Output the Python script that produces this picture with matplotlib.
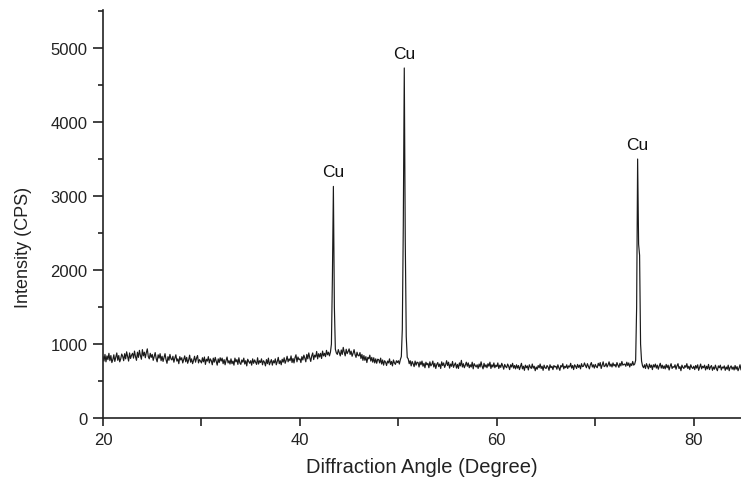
import numpy as np
import matplotlib
matplotlib.use('Agg')
import matplotlib.pyplot as plt
from matplotlib.ticker import MultipleLocator

# XRD scan: start angle, step and counts (one row per degree)
start_angle = 20.0
step = 0.1
counts = [
    830, 770, 860, 760, 840, 790, 875, 775, 845, 750,
    790, 855, 765, 820, 880, 780, 845, 760, 800, 865,
    835, 775, 870, 800, 895, 830, 770, 880, 805, 850,
    875, 810, 905, 830, 780, 890, 820, 915, 845, 795,
    925, 840, 890, 815, 885, 935, 830, 800, 875, 820,
    860, 780, 835, 885, 805, 760, 855, 810, 870, 775,
    835, 765, 815, 870, 790, 740, 830, 780, 860, 800,
    785, 835, 755, 810, 855, 770, 800, 735, 830, 785,
    815, 745, 795, 840, 760, 820, 740, 785, 850, 755,
    800, 735, 780, 835, 755, 810, 845, 745, 790, 770,
    745, 815, 760, 825, 725, 795, 770, 830, 745, 800,
    775, 720, 810, 755, 820, 765, 715, 800, 750, 815,
    770, 810, 735, 790, 720, 780, 825, 745, 775, 730,
    800, 735, 770, 715, 810, 760, 790, 725, 815, 745,
    725, 785, 755, 810, 730, 775, 705, 795, 765, 740,
    775, 715, 800, 740, 785, 755, 725, 815, 730, 775,
    750, 800, 720, 775, 755, 705, 790, 735, 810, 720,
    755, 790, 715, 775, 745, 800, 720, 765, 820, 735,
    775, 720, 795, 755, 815, 740, 780, 835, 760, 800,
    775, 840, 750, 805, 745, 815, 855, 760, 825, 790,
    800, 750, 830, 785, 850, 810, 760, 860, 800, 880,
    815, 765, 840, 880, 790, 850, 825, 900, 800, 870,
    825, 875, 805, 905, 840, 875, 830, 915, 855, 890,
    840, 890, 1000, 1900, 3130, 1500, 930, 880, 860, 925,
    880, 840, 920, 860, 955, 890, 840, 930, 870, 900,
    935, 860, 905, 835, 875, 925, 860, 820, 890, 845,
    840, 885, 805, 860, 780, 845, 780, 830, 750, 820,
    800, 850, 770, 820, 755, 815, 745, 800, 740, 795,
    790, 745, 810, 730, 785, 715, 775, 755, 710, 770,
    745, 800, 725, 765, 705, 785, 745, 725, 775, 750,
    775, 730, 790, 830, 1200, 2600, 4730, 2400, 1100, 820,
    800, 735, 775, 705, 765, 735, 695, 770, 715, 755,
    750, 690, 760, 720, 770, 700, 740, 680, 755, 720,
    740, 680, 760, 705, 725, 770, 690, 740, 670, 725,
    750, 695, 730, 670, 760, 710, 745, 685, 720, 775,
    710, 755, 675, 730, 700, 765, 685, 720, 745, 675,
    725, 670, 745, 705, 780, 690, 735, 680, 715, 755,
    700, 745, 680, 720, 690, 755, 665, 735, 710, 690,
    720, 670, 730, 690, 760, 700, 665, 740, 690, 720,
    680, 735, 700, 755, 670, 720, 690, 745, 680, 715,
    695, 745, 670, 715, 685, 740, 705, 660, 725, 695,
    680, 730, 700, 655, 720, 690, 740, 675, 710, 665,
    720, 675, 710, 655, 700, 740, 665, 700, 645, 715,
    680, 705, 650, 720, 690, 670, 730, 675, 700, 640,
    690, 660, 710, 680, 730, 670, 700, 645, 715, 680,
    670, 710, 690, 645, 720, 680, 700, 655, 710, 690,
    700, 660, 720, 680, 645, 710, 690, 735, 665, 700,
    680, 720, 670, 705, 690, 740, 675, 710, 655, 720,
    700, 670, 725, 685, 715, 665, 735, 695, 700, 745,
    710, 680, 735, 700, 665, 720, 750, 690, 720, 675,
    725, 695, 680, 740, 705, 750, 670, 715, 760, 695,
    705, 740, 690, 720, 760, 700, 730, 690, 745, 705,
    725, 690, 750, 715, 685, 740, 705, 765, 715, 725,
    730, 700, 755, 710, 745, 690, 735, 710, 765, 715,
    730, 780, 1500, 3500, 2350, 2200, 1000, 770, 705, 680,
    720, 670, 735, 700, 665, 730, 685, 715, 655, 720,
    690, 730, 675, 715, 660, 705, 740, 675, 715, 670,
    705, 665, 725, 680, 715, 650, 700, 735, 670, 695,
    685, 720, 660, 705, 735, 670, 695, 640, 715, 685,
    670, 710, 685, 735, 670, 700, 655, 720, 685, 670,
    700, 655, 710, 675, 720, 645, 690, 730, 665, 700,
    680, 715, 650, 700, 665, 725, 655, 690, 710, 645,
    690, 660, 715, 670, 640, 705, 680, 715, 650, 690,
    675, 705, 645, 690, 660, 715, 640, 685, 705, 660,
    690, 650, 710, 660, 695, 640, 675, 720, 650, 690,
]

peak_angles = [43.4, 50.6, 74.3]
peak_heights = [3130, 4730, 3500]
peak_labels = ['Cu', 'Cu', 'Cu']

angles = start_angle + step * np.arange(len(counts))

plt.rcParams['font.family'] = ['Liberation Sans', 'DejaVu Sans']

fig = plt.figure(figsize=(7.41, 4.89), dpi=100)
ax = fig.add_axes([0.139, 0.143, 0.861, 0.834])

ax.plot(angles, counts, color='#1a1a1a', linewidth=0.85)

for x, y, lab in zip(peak_angles, peak_heights, peak_labels):
    ax.annotate(lab, (x, y), xytext=(0, 5), textcoords='offset points',
                ha='center', va='bottom', fontsize=12.5, color='#111111')

ax.set_xlim(20, 84.8)
ax.set_ylim(0, 5510)

ax.xaxis.set_major_locator(MultipleLocator(20))
ax.xaxis.set_minor_locator(MultipleLocator(10))
ax.yaxis.set_major_locator(MultipleLocator(1000))
ax.yaxis.set_minor_locator(MultipleLocator(500))

for side in ['top', 'right']:
    ax.spines[side].set_visible(False)
for side in ['left', 'bottom']:
    ax.spines[side].set_linewidth(1.2)
    ax.spines[side].set_color('#222222')

ax.tick_params(axis='x', which='both', direction='out', length=6, width=1.2,
               pad=4, labelsize=12, colors='#222222')
ax.tick_params(axis='y', which='major', direction='out', length=7, width=1.2,
               pad=4, labelsize=12, colors='#222222')
ax.tick_params(axis='y', which='minor', direction='out', length=3.5, width=1.2,
               colors='#222222')

ax.set_xlabel('Diffraction Angle (Degree)', fontsize=14.5, color='#222222')
ax.set_ylabel('Intensity (CPS)', fontsize=13, color='#222222')
ax.xaxis.set_label_coords(0.5, -0.095)
ax.yaxis.set_label_coords(-0.112, 0.42)

fig.savefig('out.png', dpi=100)
